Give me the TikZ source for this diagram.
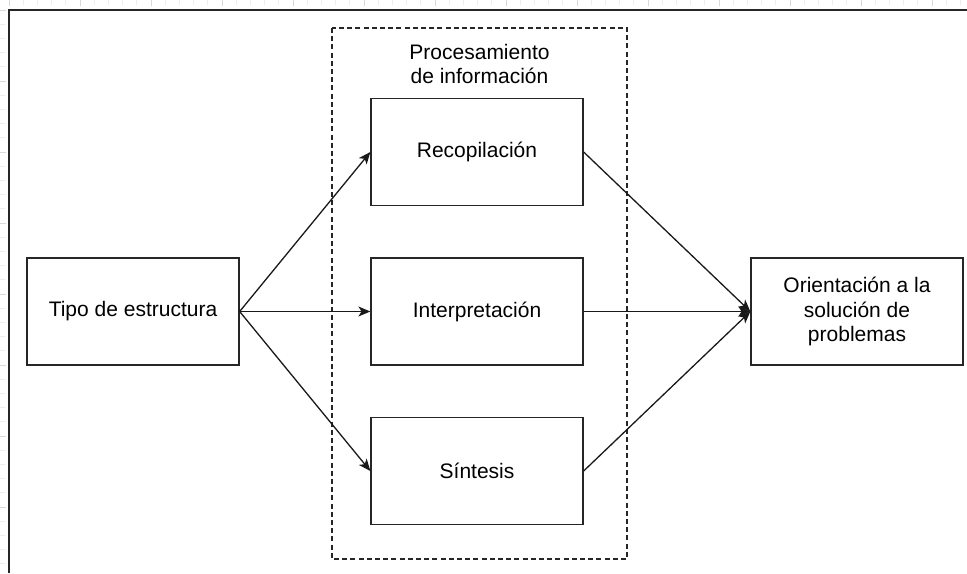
\documentclass[tikz,border=0pt]{standalone}
\usepackage{fontspec}
\setmainfont{Liberation Sans}
\usetikzlibrary{arrows.meta}
\begin{document}
\begin{tikzpicture}[x=0.5pt,y=-0.5pt,
  box/.style={draw=black!85,line width=0.65pt,minimum width=106pt,minimum height=53.5pt,inner sep=0pt,align=center,
    font=\fontsize{10.5}{12.25}\selectfont},
  lbl/.style={inner sep=0pt,align=center,font=\fontsize{10.5}{12.25}\selectfont},
  conn/.style={draw=black!90,line width=0.65pt,-{Stealth[length=6pt,width=5pt,inset=1.6pt]}},
  group/.style={draw=black!85,line width=0.6pt,dash pattern=on 2.5pt off 1.6pt},
  major/.style={draw=black!15,line width=0.4pt},
  minor/.style={draw=black!7,line width=0.4pt}]
\useasboundingbox (0,0) rectangle (967,573);
% faint grid ticks
\foreach \i in {0,...,67}{\draw[minor] ({9+14.2*\i},0) -- ({9+14.2*\i},5);}
\foreach \i in {0,...,13}{\draw[major] ({9+71*\i},0) -- ({9+71*\i},6);}
\foreach \i in {0,...,40}{\draw[minor] (0,{10+14.2*\i}) -- (5,{10+14.2*\i});}
\foreach \i in {0,...,8}{\draw[major] (0,{10+71*\i}) -- (6,{10+71*\i});}
% outer frame
\draw[black!85,line width=0.8pt] (9,573) -- (9,10) -- (967,10);
% group
\draw[group] (332,28) rectangle (627,559);
\node[lbl] (grp) at (479.5,64) {Procesamiento\\de información};
% nodes
\node[box] (tipo) at (133,311.5) {Tipo de estructura};
\node[box] (rec) at (477,152) {Recopilación};
\node[box] (int) at (477,311.5) {Interpretación};
\node[box] (sin) at (477,471) {Síntesis};
\node[box] (ori) at (857,311.5) {Orientación a la\\solución de\\problemas};
% connectors
\draw[conn] (tipo.east) -- (rec.west);
\draw[conn] (tipo.east) -- (int.west);
\draw[conn] (tipo.east) -- (sin.west);
\draw[conn] (rec.east) -- (ori.west);
\draw[conn] (int.east) -- (ori.west);
\draw[conn] (sin.east) -- (ori.west);
\end{tikzpicture}
\end{document}
